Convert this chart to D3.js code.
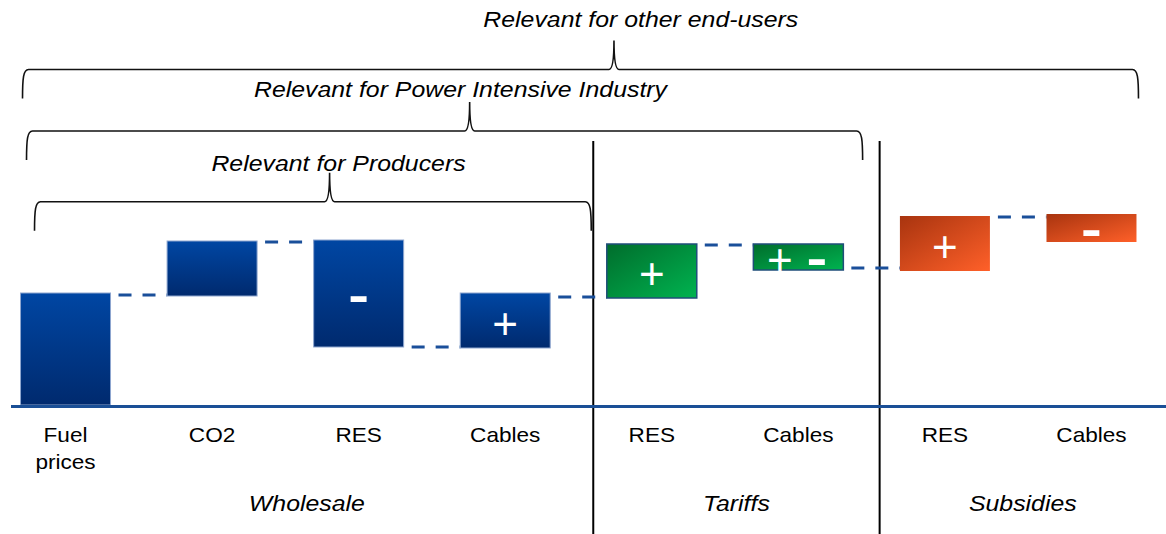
<!DOCTYPE html>
<html>
<head>
<meta charset="utf-8">
<script src="https://cdn.jsdelivr.net/npm/d3@7/dist/d3.min.js"></script>
<style>
  html, body { margin: 0; padding: 0; background: #ffffff; }
  svg { display: block; }
  text { font-family: "Liberation Sans", Arial, sans-serif; fill: #000; }
</style>
</head>
<body>
<svg id="chart" width="1166" height="534"></svg>
<script>
// ---- data -------------------------------------------------------------
const categories = ["Fuel\nprices", "CO2", "RES", "Cables", "RES", "Cables", "RES", "Cables"];
const groups     = ["Wholesale", "Wholesale", "Wholesale", "Wholesale", "Tariffs", "Tariffs", "Subsidies", "Subsidies"];
const groupNames = ["Wholesale", "Tariffs", "Subsidies"];
// floating bars: lower and upper level of each step (price index units)
const barLow  = [0,   109, 58,  57,  107, 135, 134, 163];
const barHigh = [112, 164, 165, 112, 161, 161, 189, 191];
// sign drawn inside each bar
const signs   = ["", "", "-", "+", "+", "+-", "+", "-"];
// level of the dashed link between bar i and bar i+1
const linkLevels = [110, 163, 58, 108, 160, 137, 188];
// brackets above the chart: which categories each audience covers
const braceLabels = ["Relevant for other end-users", "Relevant for Power Intensive Industry", "Relevant for Producers"];
const braceFrom   = [0, 0, 0];
const braceTo     = [7, 5, 3];

// ---- layout -----------------------------------------------------------
const W = 1166, H = 534;
const svg = d3.select("#chart");
const stretch = 1.13;           // the typeface is set slightly wide

const x = d3.scaleBand()
  .domain(d3.range(categories.length))
  .range([0, 1157])
  .paddingInner(0.386)
  .paddingOuter(0.14);
const y = d3.scaleLinear().domain([0, 200]).range([405, 205]);

const groupColor = {
  Wholesale: "gradBlue",
  Tariffs: "gradGreen",
  Subsidies: "gradOrange"
};
const groupStroke = {
  Wholesale: { c: "#8ea6cf", w: 1 },
  Tariffs:   { c: "#1f4e79", w: 1.5 },
  Subsidies: { c: "none",    w: 0 }
};
const linkColor = "#1a4f9a";

// ---- gradients --------------------------------------------------------
const defs = svg.append("defs");
function grad(id, x2, y2, c0, c1) {
  const g = defs.append("linearGradient").attr("id", id)
    .attr("x1", 0).attr("y1", 0).attr("x2", x2).attr("y2", y2);
  g.append("stop").attr("offset", "0%").attr("stop-color", c0);
  g.append("stop").attr("offset", "100%").attr("stop-color", c1);
}
grad("gradBlue", 0, 1, "#0046a3", "#002a6e");
grad("gradGreen", 1, 1, "#006d2c", "#00b350");
grad("gradOrange", 1, 1, "#a8340f", "#ff6029");

// helper: horizontally stretched text anchored at its middle
function stretchedText(sel, tx, ty, str, size, opts = {}) {
  return sel.append("text")
    .attr("transform", `translate(${tx},${ty}) scale(${opts.sx || stretch},1)`)
    .attr("text-anchor", "middle")
    .style("font-size", size + "px")
    .style("font-style", opts.italic ? "italic" : "normal")
    .style("font-weight", opts.bold ? "bold" : "normal")
    .style("fill", opts.fill || "#000")
    .text(str);
}

// ---- group sections ----------------------------------------------------
// each group gets a section proportional to its number of categories
const idx = d3.range(categories.length);
const bw = x.bandwidth();
const section = d3.scaleLinear().domain([0, categories.length]).range([x(0), W]);
const groupSpans = [];
let cum = 0;
groupNames.forEach(g => {
  const n = groups.filter(d => d === g).length;
  groupSpans.push({ name: g, x0: section(cum), x1: section(cum + n) });
  cum += n;
});
const sepX = groupSpans.slice(1).map(s => s.x0);

svg.append("g").selectAll("line").data(sepX).join("line")
  .attr("x1", d => d).attr("x2", d => d)
  .attr("y1", 141).attr("y2", H)
  .attr("stroke", "#000").attr("stroke-width", 2);

// ---- dashed links between bars ------------------------------------------
svg.append("g").selectAll("line").data(linkLevels).join("line")
  .attr("x1", (d, i) => x(i) + bw)
  .attr("x2", (d, i) => x(i + 1))
  .attr("y1", d => y(d)).attr("y2", d => y(d))
  .attr("stroke", linkColor)
  .attr("stroke-width", 3.2)
  .attr("stroke-dasharray", "13,11")
  .attr("stroke-dashoffset", -8);

// ---- bars ------------------------------------------------------------
svg.append("g").selectAll("rect").data(idx).join("rect")
  .attr("x", i => x(i))
  .attr("width", bw)
  .attr("y", i => y(barHigh[i]))
  .attr("height", i => y(barLow[i]) - y(barHigh[i]))
  .attr("fill", i => `url(#${groupColor[groups[i]]})`)
  .attr("stroke", i => groupStroke[groups[i]].c)
  .attr("stroke-width", i => groupStroke[groups[i]].w);

// signs inside the bars
const signG = svg.append("g");
idx.forEach(i => {
  const chars = signs[i].split("");
  const cx = x(i) + bw / 2;
  const base = (y(barLow[i]) + y(barHigh[i])) / 2 + 18;
  chars.forEach((c, k) => {
    const dx = (k - (chars.length - 1) / 2) * 37;
    if (c === "+") {
      stretchedText(signG, cx + dx, base, "+", 44, { fill: "#fff", sx: 1 });
    } else {
      stretchedText(signG, cx + dx, base, "-", 48, { fill: "#fff", bold: true, sx: 1.3 });
    }
  });
});

// ---- baseline --------------------------------------------------------
svg.append("line")
  .attr("x1", 11).attr("x2", W)
  .attr("y1", y(0) + 1.5).attr("y2", y(0) + 1.5)
  .attr("stroke", "#1a4f96").attr("stroke-width", 3);

// ---- category labels ---------------------------------------------------
const labelG = svg.append("g");
idx.forEach(i => {
  const lines = categories[i].split("\n");
  lines.forEach((ln, k) => {
    stretchedText(labelG, x(i) + bw / 2, 442 + k * 27, ln, 20);
  });
});

// ---- group labels ------------------------------------------------------
groupSpans.forEach(s => {
  stretchedText(svg, (s.x0 + s.x1) / 2, 511, s.name, 22, { italic: true });
});

// ---- braces ------------------------------------------------------------
function bracePath(x0, x1, xp, y0, h) {
  const r = 6;
  return `M${x0},${y0 + h}` +
    ` C${x0},${y0 + h * 0.3} ${x0 + 0.8},${y0} ${x0 + r},${y0}` +
    ` L${xp - 5},${y0}` +
    ` C${xp - 1},${y0} ${xp},${y0 - h * 0.45} ${xp},${y0 - h}` +
    ` C${xp},${y0 - h * 0.45} ${xp + 1},${y0} ${xp + 5},${y0}` +
    ` L${x1 - r},${y0}` +
    ` C${x1 - 0.8},${y0} ${x1},${y0 + h * 0.3} ${x1},${y0 + h}`;
}
const braceRows = [
  { line: 69.5,  text: 27,  inset: 2,  endGap: 0,  textAt: 0.554 },
  { line: 131,   text: 97,  inset: 6,  endGap: 17, textAt: 0.519 },
  { line: 201.7, text: 171, inset: 14, endGap: 2,  textAt: 0.546 }
];
const braceG = svg.append("g");
braceLabels.forEach((lbl, b) => {
  const row = braceRows[b];
  const x0 = x(braceFrom[b]) + row.inset;
  const lastIdx = braceTo[b];
  // a bracket ends just before the next group separator, or past the last bar
  const nextSep = sepX.find(s => s > x(lastIdx));
  const x1 = nextSep !== undefined ? nextSep - row.endGap : x(lastIdx) + bw + 2;
  const xp = x0 + (x1 - x0) * 0.53;
  braceG.append("path")
    .attr("d", bracePath(x0, x1, xp, row.line, 29))
    .attr("fill", "none")
    .attr("stroke", "#111")
    .attr("stroke-width", 1.6);
  stretchedText(braceG, x0 + (x1 - x0) * row.textAt, row.text, lbl, 22, { italic: true });
});
</script>
</body>
</html>
